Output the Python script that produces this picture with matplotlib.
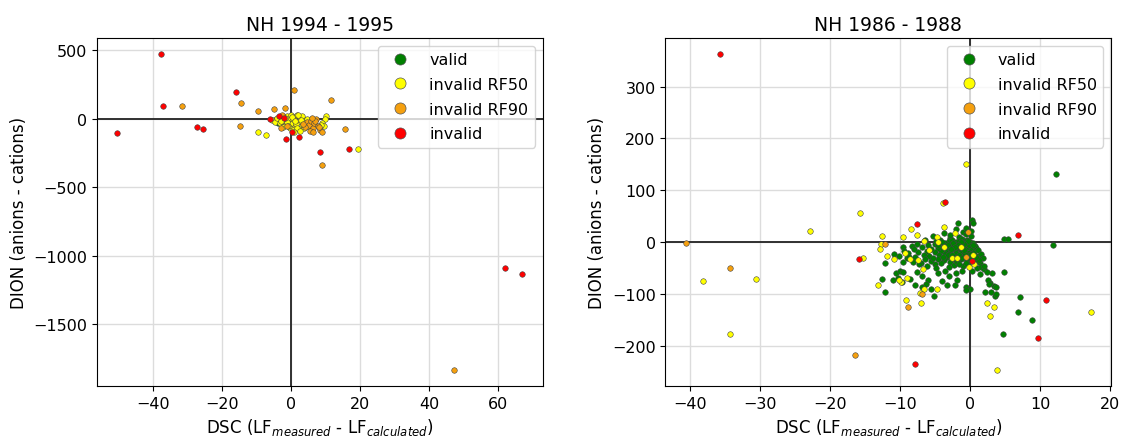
import matplotlib
matplotlib.use("Agg")
import matplotlib.pyplot as plt
from matplotlib.lines import Line2D

# ---------------- data: NH 1994 - 1995 ----------------
L_valid_x = [-4.2, -3.6, -4.8, -3.1]
L_valid_y = [-20, -32, -10, -25]

L_rf50_x = [-9.6, -7.3, 19.4, 10.2, 9.8, -5.4, -4.6, -3.9, -3.2, -2.6, -2.0, -1.5, -1.0, -0.5, 0.0,
            0.4, 0.9, 1.3, 1.8, 2.2, 2.7, 3.1, 3.6, 4.0, -2.2, -1.2, -0.3, 0.6, 1.5, 2.4,
            3.3, 4.2, 5.0, -1.8, -0.8, 0.2, 1.1, 2.0, 2.9, 3.8, 4.6, 0.5, 1.7, 2.6, 9.0,
            9.5, 8.6, -3.0, 0.8]
L_rf50_y = [-98, -120, -220, 17, 0, -10, -25, 5, -35, -15, 10, -45, 20, -5, 30,
            -30, 10, -60, 25, -20, 15, -50, -5, -35, -60, -25, -70, 0, -40, -75,
            20, -15, -55, 5, -50, 15, -20, 30, -10, -65, 0, -85, -70, -90, -30,
            -55, -45, -20, -95]

L_rf90_x = [-31.5, -14.4, -14.7, -9.4, -4.8, -1.8, 1.0, 11.6, 15.6, 9.1, 47.1, -2.6, -3.0, -1.2, 4.6,
            5.2, 5.8, 6.3, 6.8, 7.3, 7.9, 8.5, 9.0, 5.5, 6.5, 4.2, 7.0, 8.2, 3.6, 6.0]
L_rf90_y = [95, 115, -51, 59, 71, 80, 212, 134, -76, -341, -1837, 30, -65, -55, -25,
            -45, -15, -70, -35, -5, -55, -80, -95, -90, -100, -60, -20, -60, -40, 5]

L_inv_x = [-37.7, -37.1, -50.3, -27.2, -25.5, -15.8, 8.3, 16.7, 62.0, 67.0, -1.3, 2.4, 0.3, -6.1, -3.5, -2.0]
L_inv_y = [473, 93, -107, -63, -76, 198, -241, -220, -1088, -1134, -146, -134, -95, -5, 17, 5]

# ---------------- data: NH 1986 - 1988 ----------------
R_valid_pts = [
    (0.3, 43), (0.5, 37), (-1.7, 37),
    (-5.3, 12), (-3.7, 17), (-2.0, 25), (-1.0, 20), (-0.5, 15), (-2.8, 8), (-1.5, 10), (0.2, 12), (-4.3, 5),
    (-3.0, 2), (-2.5, 5), (-2.0, 0), (-1.6, 3), (-1.2, 6), (-0.8, 2), (-0.4, 5), (0.0, 1), (0.4, -2),
    (-3.5, -2), (-4.0, 0), (-5.0, -3), (-6.0, -5), (-7.5, -4), (-8.3, -8), (-9.5, -10),
    (-0.2, -10), (-0.6, -12), (-1.0, -8), (-1.4, -14), (-1.8, -11), (-2.2, -15), (-2.6, -9), (-3.0, -13),
    (-3.4, -18), (-3.8, -10), (-4.2, -16), (-4.6, -12), (-5.0, -19), (-5.5, -14), (-6.2, -17), (-6.8, -10),
    (-7.4, -18), (-8.0, -14), (-8.8, -20), (-9.4, -16), (0.3, -14), (0.6, -18), (0.9, -12), (-0.3, -20),
    (-1.2, -19), (-2.0, -21), (-2.8, -20), (-3.6, -22), (-4.4, -24), (-6.6, -25), (-7.8, -28), (-9.0, -30),
    (-10.2, -26), (-10.8, -22),
    (-0.1, -25), (-0.5, -30), (-0.9, -27), (-1.3, -33), (-1.7, -28), (-2.1, -35), (-2.5, -30), (-2.9, -38),
    (-3.3, -28), (-3.7, -35), (-4.1, -40), (-4.5, -32), (-5.0, -42), (-5.6, -36), (-6.1, -45), (-7.0, -40),
    (-8.1, -38), (0.4, -30), (0.8, -36), (1.1, -26), (1.4, -40), (-0.3, -42), (-1.0, -45), (-2.3, -44),
    (-3.0, -48), (-12.1, -41), (-4.8, -50),
    (-10.6, -60), (-9.7, -76), (-12.5, -71), (-12.2, -96), (-5.2, -103), (-3.3, -83), (-2.1, -82), (-0.5, -87),
    (0.05, -91), (-10.0, -55), (-9.5, -57), (-7.5, -58), (-6.8, -65), (-6.0, -72), (-5.5, -90), (-4.5, -60),
    (-3.5, -55), (-3.0, -65), (-2.0, -60), (-1.2, -55), (0.3, -55), (1.0, -50), (1.6, -48), (2.0, -52),
    (-7.9, -82), (-8.5, -70), (-1.8, -73), (-4.0, -75), (-10.3, -68), (-11.0, -72), (-6.3, -80), (-6.8, -86),
    (-7.3, -42), (-8.7, -28), (-9.6, -38), (-0.6, -92),
    (-0.2, -5), (-0.7, -22), (-1.1, -3), (-1.5, -24), (-0.4, -36), (0.7, -8), (1.2, -15), (1.6, -22),
    (1.9, -30), (1.3, -34), (-2.4, -2), (-3.2, -6), (-1.9, -38), (-0.9, -15), (0.1, -33),
    (-0.3, 2), (-0.8, -4), (-1.3, 0), (-1.7, -6), (-2.2, -10), (-2.7, -14), (-3.1, -24), (-3.9, -28),
    (-1.1, -30), (-0.6, -40), (0.2, -22), (0.5, -6), (0.9, -28), (-2.6, -25), (-1.5, -42), (-4.6, -6),
    (-5.8, -26), (-6.4, -33), (-5.3, -30), (-4.9, 2), (-6.4, 5), (-2.9, 14), (-0.6, 28), (0.1, 22),
    (12.3, 132), (11.8, -6), (4.9, 6), (5.4, 6), (4.9, -57), (7.2, -106), (6.9, -135), (8.9, -150),
    (4.7, -176), (3.6, -103), (3.5, -85), (2.8, -79), (3.2, -60), (2.4, -57), (2.6, -72), (3.0, -95),
    (1.5, -62), (2.0, -45), (3.7, -86), (2.2, -96), (3.7, -99), (2.7, -80),
]

R_rf50_pts = [
    (-38.2, -75), (-34.3, -177), (-30.5, -71), (-22.8, 22), (-15.7, 57), (-0.5, 151), (-3.9, 75),
    (17.3, -135), (3.9, -247), (2.9, -143), (3.5, -124), (2.5, -118), (-13.2, -83), (-9.2, -111),
    (-7.0, -118), (-9.9, -77), (-12.5, 12), (-12.7, -3), (-12.9, -13), (-15.3, -31), (-11.8, -26),
    (-10.9, -33), (-9.6, 10), (-8.4, 26), (-7.6, 13), (-3.7, 30), (-2.1, 17), (-1.3, -9), (-0.1, -48),
    (0.5, -25), (0.6, -42), (-7.4, -34), (-6.7, -52), (-6.5, 2), (-5.8, -15), (-4.7, 10), (-4.6, 0),
    (-3.7, -10), (-2.5, -30), (-1.9, -30), (-6.5, -90), (-4.7, -91), (-7.2, -98), (-10.2, -73),
    (-9.0, -69), (-8.6, -33), (-9.3, -20),
]

R_rf90_pts = [(-40.6, -2), (-34.3, -49), (-16.4, -218), (-8.9, -124), (-12.2, -4), (-0.3, 19),
              (-6.9, -100), (-0.5, -28)]

R_inv_pts = [(-35.7, 363), (-3.5, 78), (-7.6, 35), (-15.9, -32), (6.8, 14), (10.9, -111),
             (9.7, -185), (-7.9, -235), (0.3, -36)]

labels = ["valid", "invalid RF50", "invalid RF90", "invalid"]
colors = ["#008000", "#ffff00", "#f5a00f", "#ff0000"]
titles = ["NH 1994 - 1995", "NH 1986 - 1988"]

xlabel = r"DSC (LF$_{measured}$ - LF$_{calculated}$)"
ylabel = "DION (anions - cations)"


def unzip(pts):
    return [p[0] for p in pts], [p[1] for p in pts]


left_sets = [(L_valid_x, L_valid_y), (L_rf50_x, L_rf50_y), (L_rf90_x, L_rf90_y), (L_inv_x, L_inv_y)]
right_sets = [unzip(R_valid_pts), unzip(R_rf50_pts), unzip(R_rf90_pts), unzip(R_inv_pts)]

fig = plt.figure(figsize=(11.26, 4.39), dpi=100)
ax1 = fig.add_axes([0.086, 0.118, 0.396, 0.793])
ax2 = fig.add_axes([0.591, 0.118, 0.396, 0.793])

for ax, sets, title in [(ax1, left_sets, titles[0]), (ax2, right_sets, titles[1])]:
    ax.set_axisbelow(True)
    ax.grid(True, color="#dcdcdc", linewidth=1.0)
    for (xs, ys), c in zip(sets, colors):
        ax.scatter(xs, ys, s=16, c=c, edgecolors="#444444", linewidths=0.4, zorder=3)
    ax.axhline(0, color="#222222", linewidth=1.3, zorder=2)
    ax.axvline(0, color="#222222", linewidth=1.3, zorder=2)
    ax.set_title(title, fontsize=13.5)
    ax.set_xlabel(xlabel, fontsize=12)
    ax.set_ylabel(ylabel, fontsize=12)
    ax.tick_params(labelsize=11.5)
    handles = [Line2D([], [], linestyle="none", marker="o", markersize=8, markerfacecolor=c,
                      markeredgecolor="#555555", markeredgewidth=0.5) for c in colors]
    ax.legend(handles, labels, loc="upper right", fontsize=11.5, labelspacing=0.6)

fig.savefig("out.png", dpi=100)
